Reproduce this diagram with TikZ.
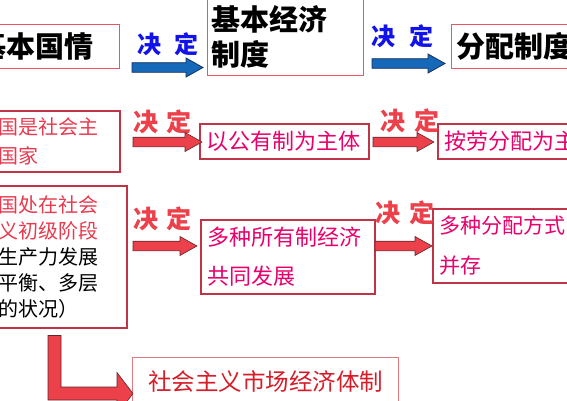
\documentclass[tikz,border=0pt]{standalone}
\usepackage{fontspec}
\usepackage{xcolor}
\usepackage{tikz}
\usetikzlibrary{calc, positioning}

\newfontfamily\hei{Noto Sans CJK SC}

\definecolor{kuangA}{RGB}{232,86,98}
\definecolor{kuangB}{RGB}{192,52,72}
\definecolor{kuangC}{RGB}{226,122,132}
\definecolor{hongzi}{RGB}{232,58,78}
\definecolor{fenzi}{RGB}{232,0,108}
\definecolor{dizi}{RGB}{214,28,40}
\definecolor{lanzi}{RGB}{18,18,236}
\definecolor{lanjian}{RGB}{22,104,184}
\definecolor{hongjian}{RGB}{236,64,74}

% 粗箭头：起点 #2，箭尖 #3
\newcommand{\fatarrow}[3]{%
  \path[#1] let \p1=(#2), \p2=(#3) in
    (\x1,\y1+4.8pt) -- (\x2-17pt,\y1+4.8pt) -- (\x2-17pt,\y1+9.5pt) -- (\x2,\y1)
    -- (\x2-17pt,\y1-9.5pt) -- (\x2-17pt,\y1-4.8pt) -- (\x1,\y1-4.8pt) -- cycle;}

\begin{document}
\begin{tikzpicture}[x=1pt, y=-1pt, >=stealth,
    boxA/.style={draw=kuangA, line width=1.2pt, anchor=north west, inner ysep=0pt,
      align=left, font=\hei\bfseries\fontsize{29}{35}\selectfont},
    boxB/.style={draw=kuangB, line width=1.5pt, anchor=north west, inner ysep=0pt,
      align=left, inner xsep=7pt},
    jdlan/.style={text=lanzi, font=\hei\bfseries\fontsize{24}{24}\selectfont},
    jdhong/.style={text=hongjian, font=\hei\bfseries\fontsize{25}{25}\selectfont},
    lanarrow/.style={fill=lanjian, draw={rgb,255:red,24;green,48;blue,96}, line width=0.8pt},
    hongarrow/.style={fill=hongjian, draw={rgb,255:red,96;green,40;blue,44}, line width=0.6pt}]
    \useasboundingbox (0,0) rectangle (567,400);
    \clip (0,0) rectangle (567,400);

    % 第一行
    \node[boxA, inner xsep=8pt, text width=134pt, minimum height=44pt] (guoqing) at (-31,24) {基本国情};
    \node[boxA, inner xsep=4pt, text width=148pt, minimum height=78pt] (jiben) at (207,-3) {基本经济\\制度};
    \node[boxA, inner xsep=5pt, text width=150pt, minimum height=44pt] (fenpei) at (451,24) {分配制度};

    % 第二行
    \node[boxB, inner xsep=8pt, text width=133pt, minimum height=61pt, text=hongzi,
      font=\hei\fontsize{20}{29}\selectfont] (shehui) at (-30,110) {我国是社会主\\义国家};
    \node[boxB, text width=155pt, minimum height=35pt, text=fenzi,
      font=\hei\fontsize{22}{22}\selectfont] (gongyou) at (199,123) {以公有制为主体};
    \node[boxB, text width=160pt, minimum height=35pt, text=fenzi,
      font=\hei\fontsize{22}{22}\selectfont] (anlao) at (437,123) {按劳分配为主体};

    % 第三行
    \node[boxB, inner xsep=8pt, text width=140pt, minimum height=142pt,
      font=\hei\fontsize{20}{26}\selectfont] (chuji) at (-30,185)
      {\textcolor{hongzi}{我国处在社会}\\\textcolor{hongzi}{主义初级阶段}\\（生产力发展\\不平衡、多层\\次的状况）};
    \node[boxB, text width=160pt, minimum height=74pt, text=fenzi,
      font=\hei\fontsize{22}{39}\selectfont] (duozhong) at (200,219) {多种所有制经济\\共同发展};
    \node[boxB, text width=160pt, minimum height=74pt, text=fenzi,
      font=\hei\fontsize{21}{40}\selectfont] (fangshi) at (432,208) {多种分配方式\\并存};

    % 最下面
    \node[draw=kuangC, line width=1pt, anchor=north west, minimum width=266pt, minimum height=48pt,
      inner ysep=0pt, text=dizi, font=\hei\fontsize{23.5}{23.5}\selectfont] (tizhi) at (132,357) {社会主义市场经济体制};

    % “决定”
    \node[jdlan] (jd1) at (168,44) {决\hspace{0.55em}定};
    \node[jdlan] (jd2) at (402.5,36) {决\hspace{0.55em}定};
    \node[jdhong] (jd3) at (162.5,121.5) {决\hspace{0.35em}定};
    \node[jdhong] (jd4) at (410,121) {决\hspace{0.35em}定};
    \node[jdhong] (jd5) at (162.5,219) {决\hspace{0.35em}定};
    \node[jdhong] (jd6) at (405,212.5) {决\hspace{0.35em}定};

    % 箭头
    \coordinate (a1) at (132,67.5);
    \coordinate (a2) at (372,63.5);
    \coordinate (a3) at (133,142);
    \coordinate (a4) at (373,142);
    \coordinate (a5) at (133,246);
    \coordinate (a6) at (375,246);
    \fatarrow{lanarrow}{a1}{[xshift=-4pt]jiben.west}
    \fatarrow{lanarrow}{a2}{[xshift=-6pt]fenpei.west}
    \fatarrow{hongarrow}{a3}{[xshift=3pt]gongyou.west}
    \fatarrow{hongarrow}{a4}{[xshift=-3pt]anlao.west}
    \fatarrow{hongarrow}{a5}{[xshift=-3pt]duozhong.west}
    \fatarrow{hongarrow}{a6}{fangshi.west}

    % 折线箭头
    \coordinate (L1) at ([yshift=-7pt]chuji.south -| 54.5,0);
    \coordinate (L2) at ([xshift=1pt]tizhi.west |- 0,393.5);
    \path[hongarrow] let \p1=(L1), \p2=(L2) in
      (\x1-6.5pt,\y1) -- (\x1+6.5pt,\y1) -- (\x1+6.5pt,\y2+6.5pt) -- (\x2-16pt,\y2+6.5pt)
      -- (\x2-16pt,\y2+21pt) -- (\x2,\y2) -- (\x2-16pt,\y2-21pt) -- (\x2-16pt,\y2-6.5pt)
      -- (\x1-6.5pt,\y2-6.5pt) -- cycle;
\end{tikzpicture}
\end{document}
